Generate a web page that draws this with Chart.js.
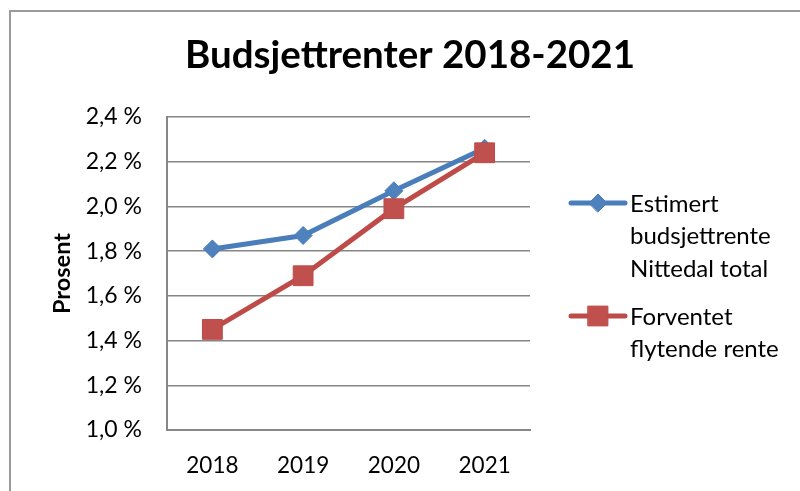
<!DOCTYPE html>
<html>
<head>
<meta charset="utf-8">
<script src="https://cdn.jsdelivr.net/npm/chart.js@4.4.1/dist/chart.umd.min.js"></script>
<style>
html,body{margin:0;padding:0;background:#fff;}
#wrap{position:relative;width:800px;height:491px;overflow:hidden;}
#frame{position:absolute;left:9px;top:10px;width:900px;height:600px;border-left:2px solid #9a9a9a;border-top:2px solid #9a9a9a;pointer-events:none;}
canvas{position:absolute;left:0;top:0;}
</style>
</head>
<body>
<div id="wrap"><canvas id="c" width="800" height="491"></canvas><div id="frame"></div></div>
<script>
// ---- data ----
const categories = ['2018', '2019', '2020', '2021'];
const estimertBudsjettrente = [1.81, 1.87, 2.07, 2.26];
const forventetFlytendeRente = [1.45, 1.69, 1.99, 2.24];
const seriesLabelLines = [
  ['Estimert', 'budsjettrente', 'Nittedal total'],
  ['Forventet', 'flytende rente']
];
const yTickValues = [1.0, 1.2, 1.4, 1.6, 1.8, 2.0, 2.2, 2.4];
const chartTitle = 'Budsjettrenter 2018-2021';
const yAxisTitle = 'Prosent';

const FONT = 'Lato';
const GRID = '#868686';

// Side legend as a layout box on the right
const sideLegend = {
  id: 'sideLegend',
  start(chart) {
    const box = {
      position: 'right',
      weight: 1000,
      fullSize: false,
      options: {},
      left: 0, top: 0, right: 0, bottom: 0, width: 0, height: 0,
      isHorizontal() { return false; },
      update(maxWidth, maxHeight) {
        this.width = 270;
        this.height = maxHeight;
        return this;
      },
      draw() {
        const ctx = chart.ctx;
        const rows = [203, 316];
        const lineGap = 32.5;
        chart.data.datasets.forEach((ds, i) => {
          const y = rows[i];
          const x0 = this.left + 41, x1 = this.left + 95, xm = this.left + 68;
          ctx.save();
          ctx.strokeStyle = ds.borderColor;
          ctx.lineWidth = ds.borderWidth;
          ctx.lineCap = 'round';
          ctx.beginPath();
          ctx.moveTo(x0, y);
          ctx.lineTo(x1, y);
          ctx.stroke();
          ctx.fillStyle = ds.pointBackgroundColor;
          ctx.strokeStyle = ds.pointBorderColor;
          ctx.lineWidth = ds.pointBorderWidth;
          Chart.helpers.drawPoint(ctx, {
            pointStyle: ds.pointStyle,
            radius: ds.pointRadius,
            rotation: 0,
            borderWidth: ds.pointBorderWidth
          }, xm, y);
          ctx.fillStyle = '#000';
          ctx.font = '24px ' + FONT;
          ctx.textAlign = 'left';
          ctx.textBaseline = 'middle';
          seriesLabelLines[i].forEach((t, k) => ctx.fillText(t, this.left + 100, y + 1 + k * lineGap));
          ctx.restore();
        });
      }
    };
    Chart.layouts.addBox(chart, box);
  }
};

const fmt = v => v.toFixed(1).replace('.', ',') + ' %';

new Chart(document.getElementById('c'), {
  type: 'line',
  data: {
    labels: categories,
    datasets: [
      {
        label: seriesLabelLines[0].join(' '),
        data: estimertBudsjettrente,
        borderColor: '#4A7EBB',
        backgroundColor: '#4F81BD',
        borderWidth: 5,
        pointStyle: 'rectRot',
        pointRadius: 9,
        pointBackgroundColor: '#4F81BD',
        pointBorderColor: '#4A7EBB',
        pointBorderWidth: 1,
        tension: 0,
        order: 2
      },
      {
        label: seriesLabelLines[1].join(' '),
        data: forventetFlytendeRente,
        borderColor: '#BE4B48',
        backgroundColor: '#C0504D',
        borderWidth: 5,
        pointStyle: 'rect',
        pointRadius: 14,
        pointBackgroundColor: '#C0504D',
        pointBorderColor: '#BE4B48',
        pointBorderWidth: 1,
        tension: 0,
        order: 1
      }
    ]
  },
  plugins: [sideLegend],
  options: {
    responsive: false,
    animation: false,
    layout: { padding: { left: 20, right: 0, top: 0, bottom: 0 } },
    plugins: {
      legend: { display: false },
      tooltip: { enabled: false },
      title: {
        display: true,
        text: chartTitle,
        color: '#000',
        font: { family: FONT, size: 38.5, weight: 'bold', lineHeight: 1.2 },
        padding: { top: 32, bottom: 38.8 }
      }
    },
    scales: {
      x: {
        offset: true,
        grid: { display: false, drawTicks: false },
        border: { display: true, color: GRID, width: 2 },
        ticks: { color: '#000', font: { family: FONT, size: 22.5 }, padding: 22 },
        afterFit: s => { s.height = 61; }
      },
      y: {
        min: 1.0,
        max: 2.4,
        afterBuildTicks: s => { s.ticks = yTickValues.map(v => ({ value: v })); },
        grid: { color: GRID, lineWidth: 1.5, drawTicks: false },
        border: { display: true, color: GRID, width: 2 },
        ticks: { color: '#000', font: { family: FONT, size: 23 }, padding: 25, callback: v => fmt(v) },
        title: {
          display: true,
          text: yAxisTitle,
          color: '#000',
          font: { family: FONT, size: 23.5, weight: 'bold', lineHeight: 1.2 },
          padding: { top: 28, bottom: 0 }
        },
        afterFit: s => { s.width = 147; }
      }
    }
  }
});
</script>
</body>
</html>
